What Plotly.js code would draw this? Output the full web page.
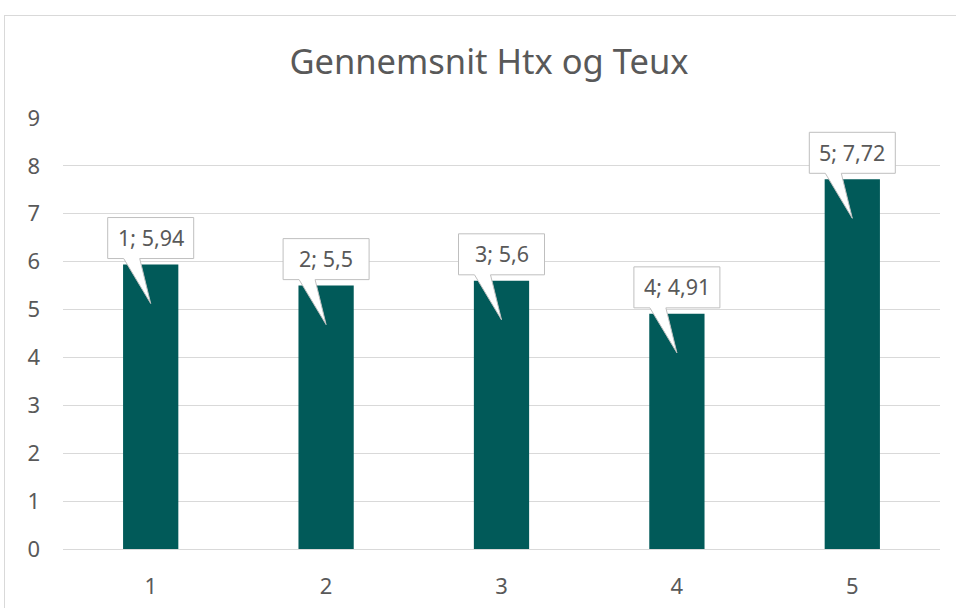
<!DOCTYPE html>
<html><head><meta charset="utf-8">
<script src="https://cdn.plot.ly/plotly-3.0.1.min.js"></script>
<style>
body{margin:0;padding:0;background:#fff;}
#frame{position:absolute;left:4px;top:15px;width:980px;height:620px;border:1px solid #d9d9d9;box-sizing:border-box;}
#chart{position:absolute;left:0;top:0;width:956px;height:608px;}
</style></head>
<body>
<div id="frame"></div>
<div id="chart"></div>
<script>
const categories = [1, 2, 3, 4, 5];
const values = [5.94, 5.5, 5.6, 4.91, 7.72];
const titleText = "Gennemsnit Htx og Teux";
const yTicks = [0, 1, 2, 3, 4, 5, 6, 7, 8, 9];

const font = "'Noto Sans', 'Open Sans', sans-serif";
const labelText = categories.map((c, i) => c + "; " + String(values[i]).replace(".", ","));

const calloutPath = "M -43,6 L -27,6 L 0,-39 L -11,6 L 43,6 L 43,47 L -43,47 Z";
const shapes = categories.map((c, i) => ({
  type: "path", xref: "x", yref: "y",
  xsizemode: "pixel", ysizemode: "pixel",
  xanchor: c, yanchor: values[i],
  path: calloutPath,
  fillcolor: "#ffffff",
  line: {color: "#bfbfbf", width: 1},
  layer: "above"
}));
const annotations = categories.map((c, i) => ({
  x: c, y: values[i], xref: "x", yref: "y",
  text: labelText[i], showarrow: false,
  yshift: 27, font: {family: font, size: 21.5, color: "#595959"}
}));

const data = [{
  type: "bar", x: categories, y: values,
  width: 0.315,
  marker: {color: "#015a59"},
  hoverinfo: "none"
}];

const layout = {
  width: 956, height: 608,
  paper_bgcolor: "rgba(0,0,0,0)", plot_bgcolor: "rgba(0,0,0,0)",
  margin: {l: 63, r: 16, t: 118, b: 59},
  title: {text: titleText, x: 489/956, xref: "container", xanchor: "center",
          y: 1 - 62/608, yref: "container", yanchor: "middle",
          font: {family: font, size: 34.5, color: "#595959"}},
  xaxis: {range: [0.5, 5.5], tickvals: categories, showgrid: false, zeroline: false,
          showline: true, linecolor: "#d9d9d9", linewidth: 1,
          ticks: "", ticklabelstandoff: 18,
          tickfont: {family: font, size: 22, color: "#595959"}, fixedrange: true},
  yaxis: {range: [0, 9], tickvals: yTicks, showgrid: true, gridcolor: "#d9d9d9", gridwidth: 1,
          zeroline: false, showline: false, ticks: "", ticklabelstandoff: 22,
          tickfont: {family: font, size: 22, color: "#595959"}, fixedrange: true},
  shapes: shapes,
  annotations: annotations,
  showlegend: false
};
Plotly.newPlot("chart", data, layout, {displayModeBar: false, staticPlot: true});
</script>
</body></html>
